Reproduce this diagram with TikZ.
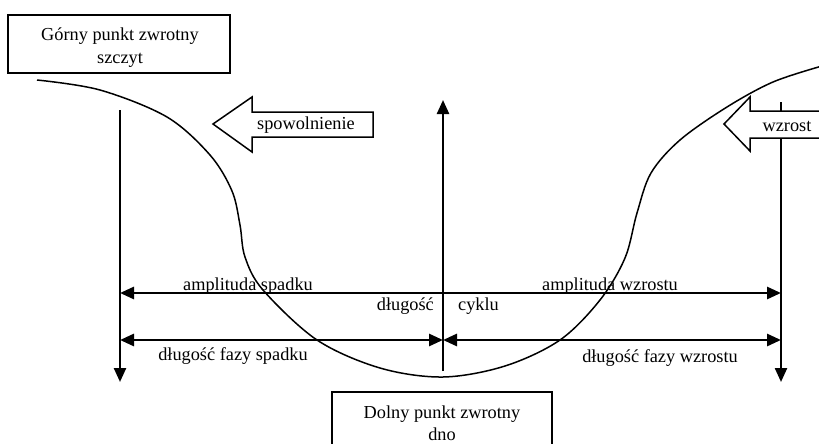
\documentclass[tikz,border=0pt]{standalone}
\usepackage{fontspec}
\setmainfont{Liberation Serif}
\usetikzlibrary{arrows.meta}
\begin{document}
\begin{tikzpicture}[x=1pt,y=-1pt,
  lbl/.style={font=\fontsize{18.3}{23}\selectfont, inner sep=0pt, text=black},
  boxline/.style={line width=1.5pt},
  axis/.style={line width=2.4pt},
  dim/.style={line width=2.8pt},
  tip/.style={-{Triangle[length=14pt,width=12pt]}},
  tips/.style={{Triangle[length=14pt,width=12pt]}-{Triangle[length=14pt,width=12pt]}},
  curve/.style={line width=1.5pt}]
\useasboundingbox (0,0) rectangle (819,444);

% coordinates
\coordinate (Ltop) at (120,110);
\coordinate (Lbot) at (120,382);
\coordinate (Mbot) at (443,371);
\coordinate (Mtop) at (443,100);
\coordinate (Rtop) at (781,102);
\coordinate (Rbot) at (781,382);
\coordinate (A1) at (120,293);
\coordinate (A2) at (781,293);
\coordinate (B1) at (120,340);
\coordinate (B2) at (443,340);
\coordinate (B3) at (781,340);

% business cycle curve
\draw[curve] plot[smooth, tension=0.55] coordinates {
 (37,80) (100,90) (167,117) (210,155) (232,191) (240,225) (245,257) (263,290)
 (317,340) (380,368) (443,377) (505,366) (560,340) (600,300) (625,258)
 (637,213) (651,173) (680,140) (727,107) (773,82) (822,66)};

% vertical lines
\draw[axis,tip] (Ltop) -- (Lbot);
\draw[axis,tip] (Mbot) -- (Mtop);
\draw[axis,tip] (Rtop) -- (Rbot);

% horizontal dimension arrows
\draw[dim,tips] (A1) -- (A2);
\draw[dim,tips] (B1) -- (B2);
\draw[dim,tips] (B2) -- (B3);

% block arrow: spowolnienie
\draw[boxline, fill=white] (213,124) -- (252,97) -- (252,112) -- (373,112)
  -- (373,137) -- (252,137) -- (252,152) -- cycle;
\node[lbl] (spow) at (306,125) {spowolnienie};

% block arrow: wzrost (cut by right edge)
\fill[white] (724,124) -- (750,97) -- (750,111) -- (830,111)
  -- (830,138) -- (750,138) -- (750,151) -- cycle;
\draw[boxline] (830,111) -- (750,111) -- (750,97) -- (724,124) -- (750,151)
  -- (750,138) -- (830,138);
\node[lbl] (wzr) at (787,126) {wzrost};

% top box
\draw[boxline, fill=white] (8,15) rectangle (230,73);
\node[lbl] (gorny) at (120,36) {Górny punkt zwrotny};
\node[lbl] (szczyt) at (120,60) {szczyt};

% bottom box
\draw[boxline, fill=white] (332,392) rectangle (552,470);
\node[lbl] (dolny) at (442,414) {Dolny punkt zwrotny};
\node[lbl] (dno) at (442,434) {dno};

% labels
\node[lbl, anchor=base] (amps) at (248,290) {amplituda spadku};
\node[lbl, anchor=base] (ampw) at (610,290) {amplituda wzrostu};
\node[lbl, anchor=base east] (dl) at (434,310) {długość};
\node[lbl, anchor=base west] (cy) at (458,310) {cyklu};
\node[lbl, anchor=base] (dfs) at (233,360) {długość fazy spadku};
\node[lbl, anchor=base] (dfw) at (660,362) {długość fazy wzrostu};
\end{tikzpicture}
\end{document}
